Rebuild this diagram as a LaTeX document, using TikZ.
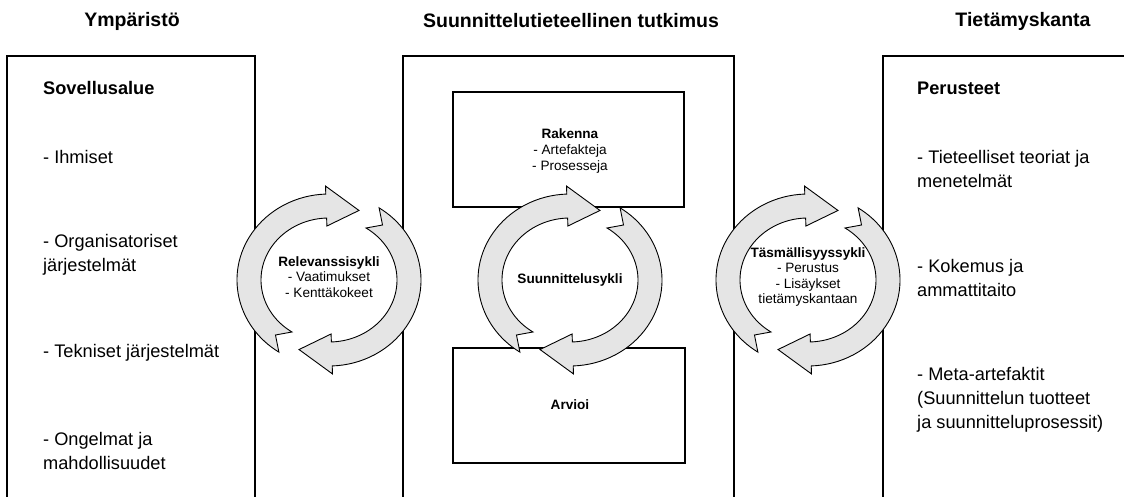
\documentclass[tikz,border=0pt]{standalone}
\usepackage{fontspec}
\setmainfont{Liberation Sans}
\tikzset{
  box/.style={draw, line width=1.3pt, inner sep=0pt, outer sep=0pt, anchor=north west},
  ttl/.style={font=\fontsize{19.5}{22}\selectfont\bfseries, anchor=center},
  head/.style={font=\fontsize{18.2}{22}\selectfont\bfseries, anchor=west, inner sep=0pt},
  body/.style={font=\fontsize{18.2}{24}\selectfont, align=left, anchor=west, inner sep=0pt},
  small/.style={font=\fontsize{13.6}{15.5}\selectfont, align=center, inner sep=0pt},
  cyc/.style={fill=gray!20, draw=black, line width=0.9pt, line join=miter},
}
\newcommand{\cyclearrow}{%
  \filldraw[cyc] (237:92 and 86) arc[start angle=237, end angle=92, x radius=92, y radius=86]
    -- (92:100 and 94) -- (68:80 and 75) -- (92:60 and 54) -- (92:68 and 62)
    arc[start angle=92, end angle=237, x radius=68, y radius=62]
    -- (228:80 and 74) -- cycle;}
\begin{document}
\begin{tikzpicture}[x=1pt, y=-1pt]
\useasboundingbox (0,0) rectangle (1124,497);
% titles
\node[ttl] (t1) at (132,21) {Ympäristö};
\node[ttl] (t2) at (571,21) {Suunnittelutieteellinen tutkimus};
\node[ttl] (t3) at (1023,21) {Tietämyskanta};
% big boxes (open at the bottom: they run past the page edge)
\node[box, minimum width=248, minimum height=470] (env) at (7,56) {};
\node[box, minimum width=331, minimum height=470] (dsr) at (403,56) {};
\node[box, minimum width=260, minimum height=470] (kb) at (883,56) {};
% inner boxes
\node[box, minimum width=231, minimum height=115] (build) at (453,92) {};
\node[box, minimum width=232, minimum height=115] (eval) at (453,348) {};
\node[small, font=\fontsize{13.6}{16}\selectfont] (buildtxt) at (570,151) {\textbf{Rakenna}\\- Artefakteja\\- Prosesseja};
\node[small, font=\fontsize{13.6}{16}\selectfont\bfseries] (evaltxt) at (570,405) {Arvioi};
% left column
\node[head] (l0) at (43,88) {Sovellusalue};
\node[body] (l1) at (43,157) {- Ihmiset};
\node[body] (l2) at (43,255) {- Organisatoriset\\järjestelmät};
\node[body] (l3) at (43,353) {- Tekniset järjestelmät};
\node[body] (l4) at (43,451) {- Ongelmat ja\\mahdollisuudet};
% right column
\node[head] (r0) at (917,88) {Perusteet};
\node[body] (r1) at (917,169) {- Tieteelliset teoriat ja\\menetelmät};
\node[body] (r2) at (917,278) {- Kokemus ja\\ammattitaito};
\node[body] (r3) at (917,400) {- Meta-artefaktit\\(Suunnittelun tuotteet\\ja suunnitteluprosessit)};
% cycles
\foreach \cx in {329,570,808}{
  \begin{scope}[shift={(\cx,280)}, yscale=-1]
    \cyclearrow
    \begin{scope}[rotate=180]\cyclearrow\end{scope}
  \end{scope}
}
\node[small] (rel) at (329,277) {\textbf{Relevanssisykli}\\- Vaatimukset\\- Kenttäkokeet};
\node[small] (des) at (570,280) {\textbf{Suunnittelusykli}};
\node[small] (rig) at (808,277) {\textbf{Täsmällisyyssykli}\\- Perustus\\- Lisäykset\\tietämyskantaan};
\end{tikzpicture}
\end{document}
